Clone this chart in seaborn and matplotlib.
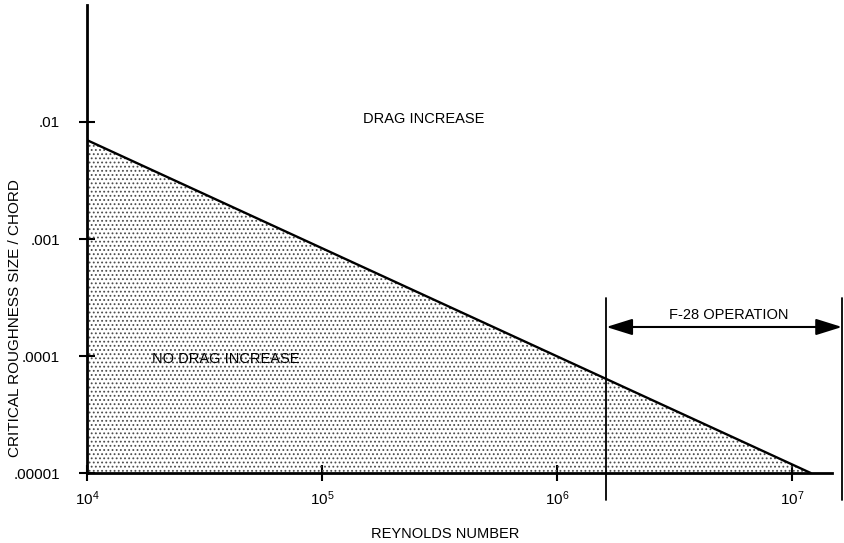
import matplotlib
matplotlib.use("Agg")
import matplotlib.pyplot as plt
import matplotlib.transforms as mtransforms
import seaborn as sns

# boundary between "drag increase" and "no drag increase"
reynolds = [1.0e4, 1.2e7]
critical_k = [7.0e-3, 1.0e-5]

# F-28 operating range of Reynolds number
f28_reynolds = [1.62e6, 1.63e7]

xtick_values = [1e4, 1e5, 1e6, 1e7]
xtick_labels = [r"$\mathregular{10^{4}}$", r"$\mathregular{10^{5}}$",
                r"$\mathregular{10^{6}}$", r"$\mathregular{10^{7}}$"]
ytick_values = [1e-5, 1e-4, 1e-3, 1e-2]
ytick_labels = [".00001", ".0001", ".001", ".01"]

sns.set_style("white")
plt.rcParams.update({
    "font.family": ["Liberation Sans", "DejaVu Sans"],
    "hatch.linewidth": 0.8,
    "text.color": "black",
    "axes.labelcolor": "black",
    "xtick.color": "black",
    "ytick.color": "black",
})


def main():
    fig = plt.figure(figsize=(8.44, 5.43), dpi=100)
    ax = fig.add_axes([0.1031, 0.1289, 0.8945, 0.8619])
    ax.set_xscale("log")
    ax.set_yscale("log")
    ax.set_xlim(1e4, f28_reynolds[1])
    ax.set_ylim(1e-5, 1e-1)

    # stippled region under the boundary
    ax.fill_between(reynolds, ytick_values[0], critical_k, facecolor="none",
                    edgecolor="0.3", hatch="....", linewidth=0)
    sns.lineplot(x=reynolds, y=critical_k, color="black", linewidth=1.7, ax=ax)

    for side in ["top", "right"]:
        ax.spines[side].set_visible(False)
    for side in ["left", "bottom"]:
        ax.spines[side].set_linewidth(2)
        ax.spines[side].set_color("black")
    ax.spines["bottom"].set_bounds(1e4, 1.48e7)

    ax.set_xticks(xtick_values)
    ax.set_xticklabels(xtick_labels)
    ax.set_yticks(ytick_values)
    ax.set_yticklabels(ytick_labels)
    ax.minorticks_off()
    ax.tick_params(axis="both", which="major", bottom=True, left=True,
                   direction="inout", length=11, width=1.5,
                   color="black", labelsize=11)
    ax.tick_params(axis="x", pad=6)
    ax.tick_params(axis="y", pad=14)

    ax.set_xlabel("REYNOLDS NUMBER", fontsize=10.5)
    ax.xaxis.set_label_coords(0.475, -0.115)
    ax.set_ylabel("CRITICAL ROUGHNESS SIZE / CHORD", fontsize=11)
    ax.yaxis.set_label_coords(-0.086, 0.331)

    ax.text(2.7e5, 1.06e-2, "DRAG INCREASE", fontsize=10.5, ha="center", va="center")
    ax.text(3.9e4, 9.4e-5, "NO DRAG INCREASE", fontsize=10.5, ha="center", va="center")

    # F-28 operation bracket
    trans = mtransforms.blended_transform_factory(ax.transData, ax.transAxes)
    for xv in f28_reynolds:
        ax.plot([xv, xv], [-0.058, 0.374], color="black", linewidth=1.3,
                transform=trans, clip_on=False)
    ax.annotate("", xy=(f28_reynolds[0], 0.312), xytext=(f28_reynolds[1], 0.312),
                xycoords=trans, textcoords=trans,
                arrowprops=dict(arrowstyle="<|-|>,head_length=1.6,head_width=0.5",
                                color="black", linewidth=1.5, shrinkA=0, shrinkB=0))
    ax.text(5.35e6, 0.338, "F-28 OPERATION", fontsize=10.5, ha="center", va="center",
            transform=trans)

    fig.savefig("out.png", dpi=100, facecolor="white")
    plt.close(fig)


if __name__ == "__main__":
    main()
